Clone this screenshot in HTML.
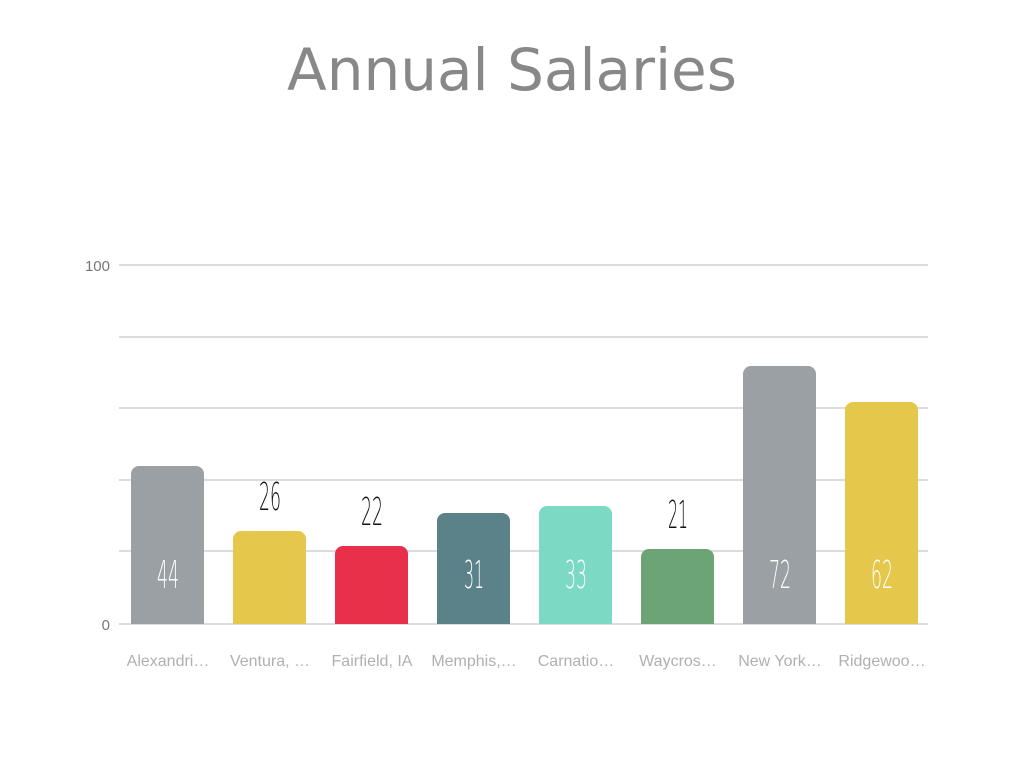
<!DOCTYPE html>
<html><head><style>body{margin:0;background:#fff}</style></head><body>
<svg width="1024" height="768" xmlns="http://www.w3.org/2000/svg">
<rect width="1024" height="768" fill="#fff"/>
<text x="512" y="90" text-anchor="middle" font-family="DejaVu Sans, sans-serif" font-size="58" fill="#888">Annual Salaries</text>
<g stroke="#dcdcdc" stroke-width="2">
<line x1="119" x2="928" y1="265" y2="265"/><line x1="119" x2="928" y1="337" y2="337"/>
<line x1="119" x2="928" y1="408" y2="408"/><line x1="119" x2="928" y1="480" y2="480"/>
<line x1="119" x2="928" y1="551" y2="551"/><line x1="119" x2="928" y1="624" y2="624"/>
</g>
<g font-family="Liberation Sans, sans-serif" font-size="15" fill="#777" text-anchor="end">
<text x="110" y="271">100</text><text x="110" y="630">0</text></g>
<g>
<path d="M131,624V474a8,8 0 0 1 8,-8H196a8,8 0 0 1 8,8V624Z" fill="#9aa0a4"/>
<path d="M233,624V539a8,8 0 0 1 8,-8H298a8,8 0 0 1 8,8V624Z" fill="#e5c84b"/>
<path d="M335,624V554a8,8 0 0 1 8,-8H400a8,8 0 0 1 8,8V624Z" fill="#e8304b"/>
<path d="M437,624V521a8,8 0 0 1 8,-8H502a8,8 0 0 1 8,8V624Z" fill="#5b8288"/>
<path d="M539,624V514a8,8 0 0 1 8,-8H604a8,8 0 0 1 8,8V624Z" fill="#7cd9c3"/>
<path d="M641,624V557a8,8 0 0 1 8,-8H706a8,8 0 0 1 8,8V624Z" fill="#6da476"/>
<path d="M743,624V374a8,8 0 0 1 8,-8H808a8,8 0 0 1 8,8V624Z" fill="#9aa0a4"/>
<path d="M845,624V410a8,8 0 0 1 8,-8H910a8,8 0 0 1 8,8V624Z" fill="#e5c84b"/>
</g>
<g font-family="DejaVu Sans, sans-serif" font-size="38" text-anchor="middle" font-weight="200">
<text x="168" y="588" fill="#fff" textLength="22" lengthAdjust="spacingAndGlyphs">44</text>
<text x="270" y="510" fill="#111" textLength="22" lengthAdjust="spacingAndGlyphs">26</text>
<text x="372" y="525" fill="#111" textLength="22" lengthAdjust="spacingAndGlyphs">22</text>
<text x="474" y="588" fill="#fff" textLength="20" lengthAdjust="spacingAndGlyphs">31</text>
<text x="576" y="588" fill="#fff" textLength="22" lengthAdjust="spacingAndGlyphs">33</text>
<text x="678" y="528" fill="#111" textLength="20" lengthAdjust="spacingAndGlyphs">21</text>
<text x="780" y="588" fill="#fff" textLength="22" lengthAdjust="spacingAndGlyphs">72</text>
<text x="882" y="588" fill="#fff" textLength="22" lengthAdjust="spacingAndGlyphs">62</text>
</g>
<g font-family="Liberation Sans, sans-serif" font-size="16" fill="#b0b0b0" text-anchor="middle">
<text x="168" y="666">Alexandri…</text><text x="270" y="666">Ventura, …</text>
<text x="372" y="666">Fairfield, IA</text><text x="474" y="666">Memphis,…</text>
<text x="576" y="666">Carnatio…</text><text x="678" y="666">Waycros…</text>
<text x="780" y="666">New York…</text><text x="882" y="666">Ridgewoo…</text>
</g>
</svg>
</body></html>
